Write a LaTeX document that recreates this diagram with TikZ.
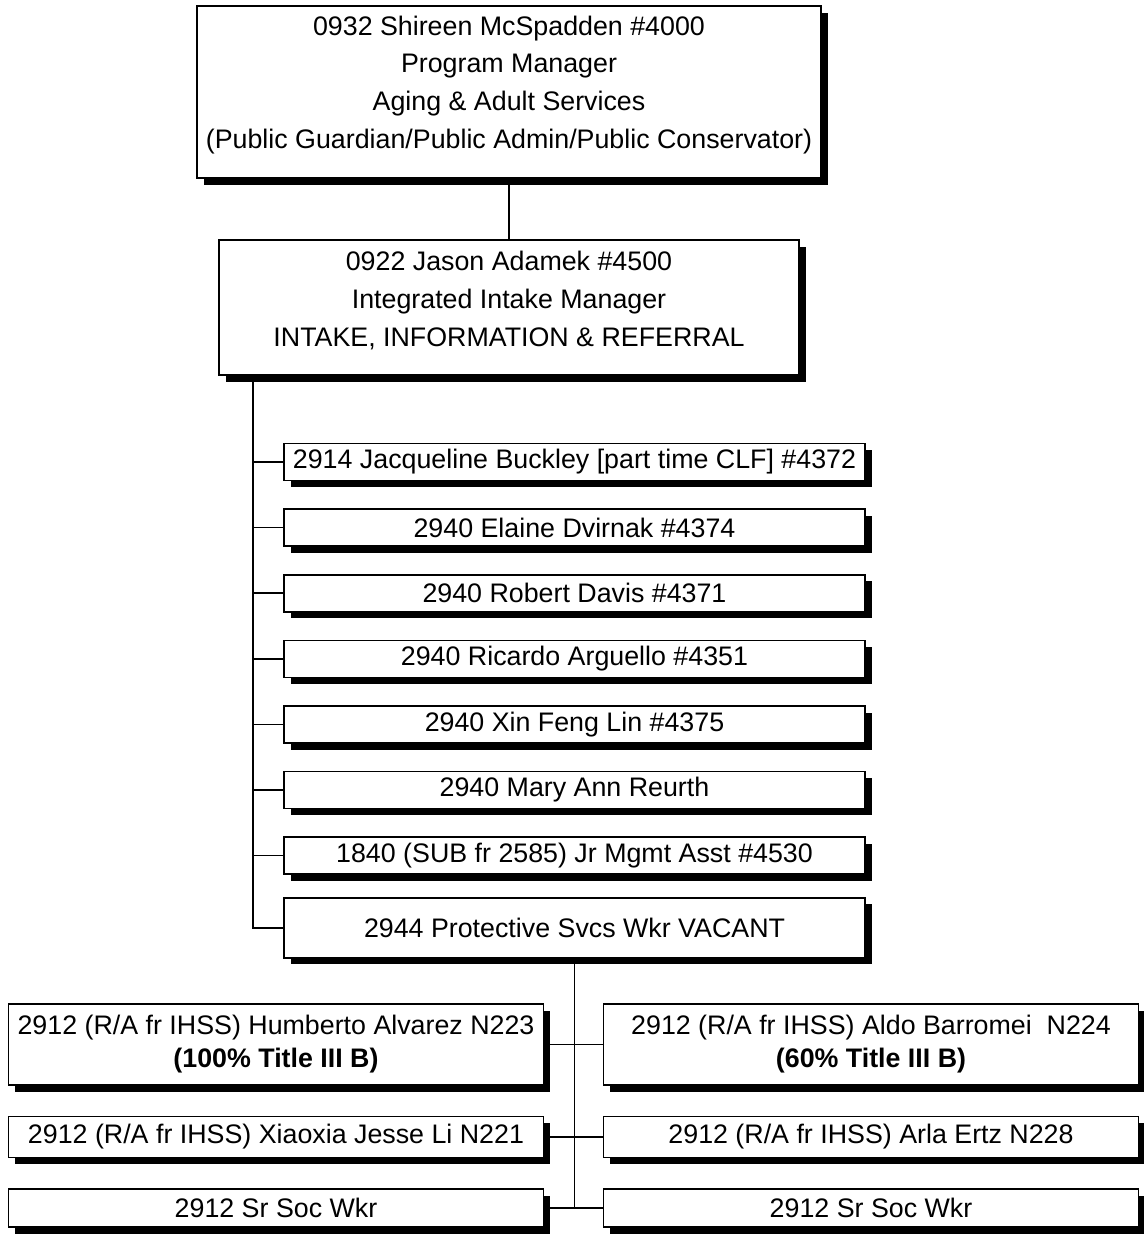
\documentclass[tikz,border=0pt]{standalone}
\usepackage{fontspec}
\setmainfont{Liberation Sans}
\usetikzlibrary{positioning,shadows}

\begin{document}
\begin{tikzpicture}[
    x=0.5pt, y=-0.5pt,
    node distance=13.5pt,
    every node/.style={font=\fontsize{13.4}{18.9}\selectfont},
    box/.style={draw, line width=0.8pt, fill=white, align=center, inner sep=0pt,
      drop shadow={shadow xshift=3.3pt, shadow yshift=-3.3pt, fill=black, opacity=1}},
    staff/.style={box, minimum width=290.5pt, minimum height=18.5pt},
    unit/.style={box, minimum width=267.5pt, minimum height=20.5pt, font=\fontsize{13.4}{16.5}\selectfont},
    link/.style={line width=0.8pt},
  ]
    \useasboundingbox (0,0) rectangle (1144,1236);

    % managers
    \node[box, minimum width=312pt, minimum height=86pt] (pm) at (509,92)
      {0932 Shireen McSpadden \#4000\\Program Manager\\Aging \& Adult Services\\(Public Guardian/Public Admin/Public Conservator)\rule[-10pt]{0pt}{10pt}};
    \node[box, minimum width=290pt, minimum height=67.5pt] (iim) at (509,307.5)
      {0922 Jason Adamek \#4500\\Integrated Intake Manager\\INTAKE, INFORMATION \& REFERRAL\rule[-9pt]{0pt}{9pt}};

    % intake staff
    \node[staff] (s1) at (574.5,462) {2914 Jacqueline Buckley [part time CLF] \#4372};
    \node[staff, below=of s1] (s2) {2940 Elaine Dvirnak \#4374};
    \node[staff, below=of s2] (s3) {2940 Robert Davis \#4371};
    \node[staff, below=of s3] (s4) {2940 Ricardo Arguello \#4351};
    \node[staff, below=of s4] (s5) {2940 Xin Feng Lin \#4375};
    \node[staff, below=of s5] (s6) {2940 Mary Ann Reurth};
    \node[staff, below=of s6] (s7) {1840 (SUB fr 2585) Jr Mgmt Asst \#4530};
    \node[staff, minimum height=30pt, below=11pt of s7] (psw) {2944 Protective Svcs Wkr VACANT};

    % social workers
    \node[unit, minimum height=40.5pt] (ha) at (276,1044.5) {2912 (R/A fr IHSS) Humberto Alvarez N223\\\textbf{(100\% Title III B)}};
    \node[unit, minimum height=40.5pt] (ab) at (871,1044.5) {2912 (R/A fr IHSS) Aldo Barromei\ \ N224\\\textbf{(60\% Title III B)}};
    \node[unit] (xl) at (276,1137) {2912 (R/A fr IHSS) Xiaoxia Jesse Li N221};
    \node[unit] (ae) at (871,1137) {2912 (R/A fr IHSS) Arla Ertz N228};
    \node[unit, minimum height=19pt] (sl) at (276,1208) {2912 Sr Soc Wkr};
    \node[unit, minimum height=19pt] (sr) at (871,1208) {2912 Sr Soc Wkr};

    % connectors
    \draw[link] (pm.south) -- (iim.north);
    \path (iim.south west) ++(35,0) coordinate (trunk);
    \draw[link] (trunk) |- (psw.west);
    \draw[link] (s1.west) -- (s1.west -| trunk)
                (s2.west) -- (s2.west -| trunk)
                (s3.west) -- (s3.west -| trunk)
                (s4.west) -- (s4.west -| trunk)
                (s5.west) -- (s5.west -| trunk)
                (s6.west) -- (s6.west -| trunk)
                (s7.west) -- (s7.west -| trunk);
    \draw[link] (psw.south) -- (psw.south |- sl.east);
    \draw[link] (ha.east) -- (ab.west);
    \draw[link] (xl.east) -- (ae.west);
    \draw[link] (sl.east) -- (sr.west);
  \end{tikzpicture}
\end{document}
